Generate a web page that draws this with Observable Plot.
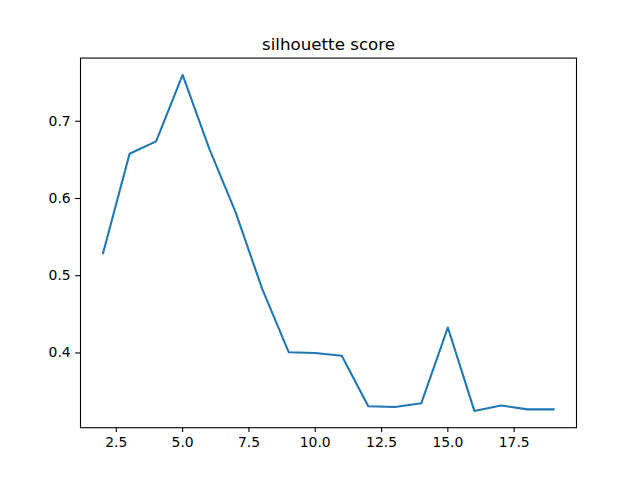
<!DOCTYPE html>
<html>
<head>
<meta charset="utf-8">
<script src="https://cdn.jsdelivr.net/npm/d3@7"></script>
<script src="https://cdn.jsdelivr.net/npm/@observablehq/plot@0.6"></script>
<style>
  html, body { margin: 0; padding: 0; background: white; }
  svg { display: block; }
</style>
</head>
<body>
<div id="chart"></div>
<script>
const title = "silhouette score";
const clusters = [2, 3, 4, 5, 6, 7, 8, 9, 10, 11, 12, 13, 14, 15, 16, 17, 18, 19];
const scores = [0.529, 0.658, 0.674, 0.760, 0.665, 0.582, 0.483, 0.401, 0.400, 0.3965, 0.331, 0.330, 0.335, 0.433, 0.325, 0.332, 0.327, 0.327];
const xTicks = [2.5, 5.0, 7.5, 10.0, 12.5, 15.0, 17.5];
const yTicks = [0.4, 0.5, 0.6, 0.7];

const data = clusters.map((k, i) => ({k, s: scores[i]}));

const xMin = d3.min(clusters), xMax = d3.max(clusters);
const yMin = d3.min(scores), yMax = d3.max(scores);
const xPad = (xMax - xMin) * 0.05, yPad = (yMax - yMin) * 0.05;

const chart = Plot.plot({
  width: 640,
  height: 480,
  marginLeft: 80,
  marginRight: 64,
  marginTop: 57.6,
  marginBottom: 52.8,
  style: { fontFamily: "DejaVu Sans, sans-serif", background: "white", color: "black" },
  x: { domain: [xMin - xPad, xMax + xPad], label: null },
  y: { domain: [yMin - yPad, yMax + yPad], label: null },
  marks: [
    Plot.axisX({ ticks: xTicks, tickFormat: d3.format(".1f"), tickSize: 4.9, tickPadding: 4.9, fontSize: 13.9, label: null, strokeWidth: 1.1 }),
    Plot.axisY({ ticks: yTicks, tickFormat: d3.format(".1f"), tickSize: 4.9, tickPadding: 4.9, fontSize: 13.9, label: null, strokeWidth: 1.1 }),
    Plot.line(data, { x: "k", y: "s", stroke: "#1f77b4", strokeWidth: 2.08 }),
    Plot.frame({ stroke: "black", strokeWidth: 1.1 }),
    Plot.text([title], { text: d => d, frameAnchor: "top", dy: -8.3, lineAnchor: "bottom", fontSize: 16.7, fill: "black" })
  ]
});
document.getElementById("chart").appendChild(chart);
</script>
</body>
</html>
